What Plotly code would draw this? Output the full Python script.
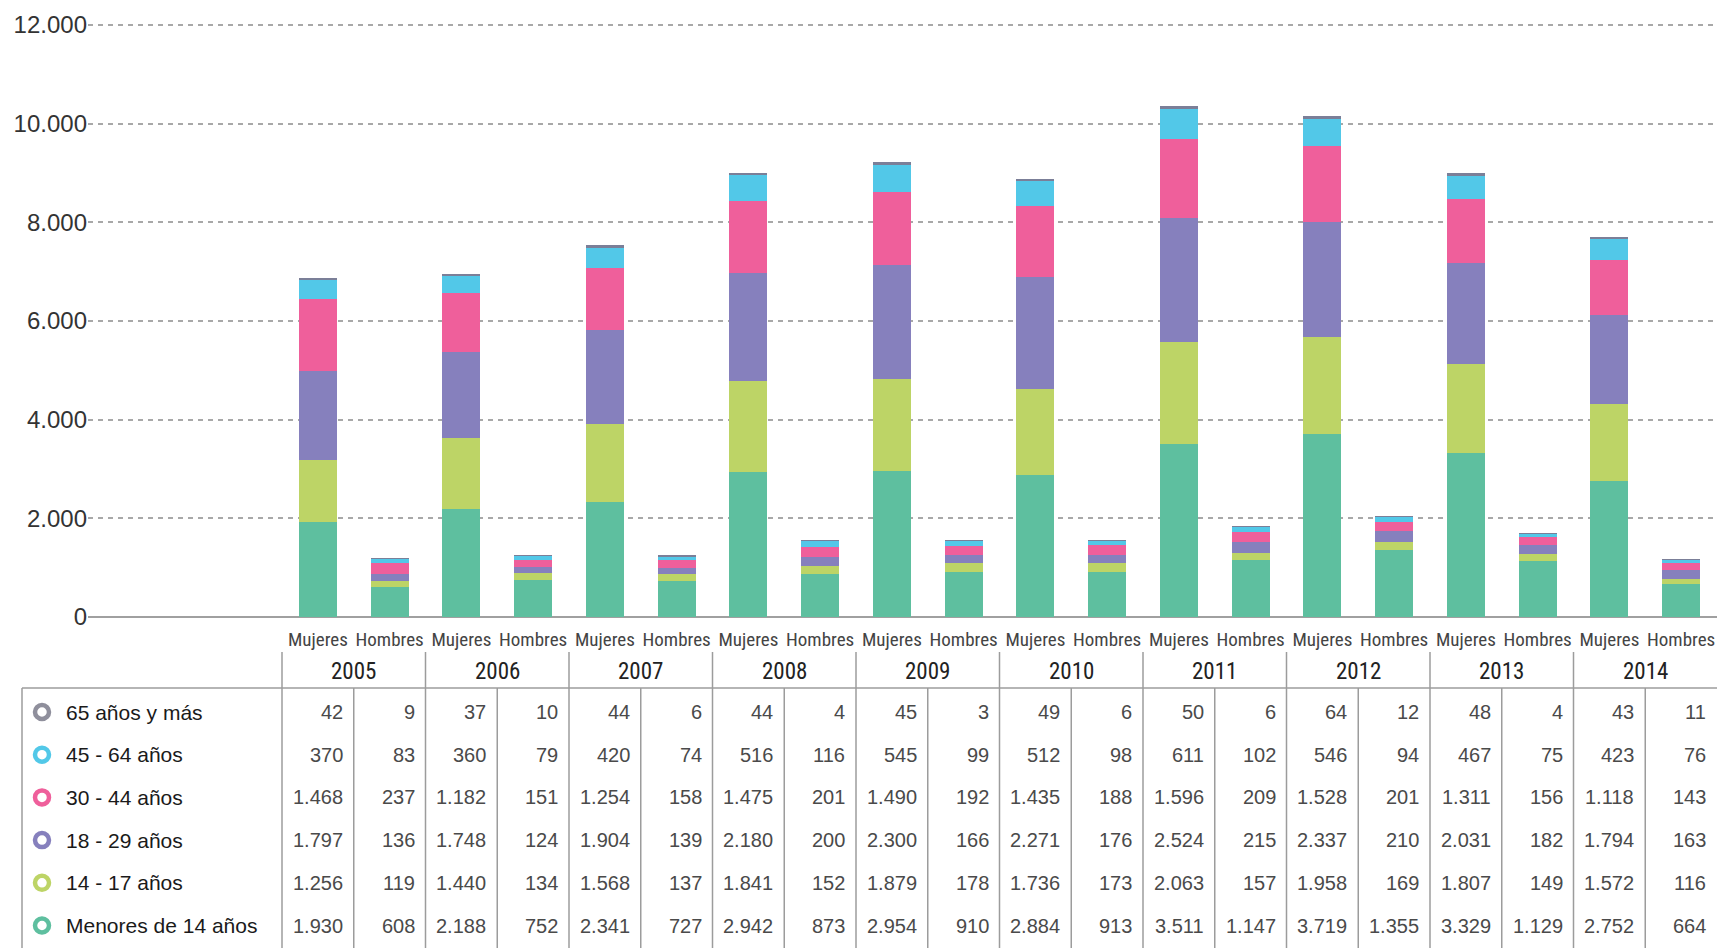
import plotly.graph_objects as go

# ---------------- data ----------------
years = ["2005", "2006", "2007", "2008", "2009", "2010", "2011", "2012", "2013", "2014"]
sexes = ["Mujeres", "Hombres"]

# values per age group, in column order: 2005 M, 2005 H, 2006 M, 2006 H, ...
menores_14 = [1930, 608, 2188, 752, 2341, 727, 2942, 873, 2954, 910,
              2884, 913, 3511, 1147, 3719, 1355, 3329, 1129, 2752, 664]
edad_14_17 = [1256, 119, 1440, 134, 1568, 137, 1841, 152, 1879, 178,
              1736, 173, 2063, 157, 1958, 169, 1807, 149, 1572, 116]
edad_18_29 = [1797, 136, 1748, 124, 1904, 139, 2180, 200, 2300, 166,
              2271, 176, 2524, 215, 2337, 210, 2031, 182, 1794, 163]
edad_30_44 = [1468, 237, 1182, 151, 1254, 158, 1475, 201, 1490, 192,
              1435, 188, 1596, 209, 1528, 201, 1311, 156, 1118, 143]
edad_45_64 = [370, 83, 360, 79, 420, 74, 516, 116, 545, 99,
              512, 98, 611, 102, 546, 94, 467, 75, 423, 76]
edad_65_mas = [42, 9, 37, 10, 44, 6, 44, 4, 45, 3,
               49, 6, 50, 6, 64, 12, 48, 4, 43, 11]

series_names = ["Menores de 14 años", "14 - 17 años", "18 - 29 años",
                "30 - 44 años", "45 - 64 años", "65 años y más"]
series_values = [menores_14, edad_14_17, edad_18_29, edad_30_44, edad_45_64, edad_65_mas]
bar_colors = ["#5ebf9f", "#bdd466", "#8680bd", "#ef5f9b", "#52c8e8", "#7b7f98"]
ring_colors = ["#5ebf9f", "#bdd466", "#8680bd", "#ef5f9b", "#52c8e8", "#8f8f9c"]

y_ticks = [0, 2000, 4000, 6000, 8000, 10000, 12000]
y_max = 12000

# ---------------- layout geometry (pixels) ----------------
W, H = 1717, 948
plot_left = 88
cat_left = 282
slot = (W - cat_left) / 20.0
y_zero_px, y_top_px = 617, 25
pad_val = 80  # small headroom so the top gridline is drawn
y_top_ext = y_top_px - pad_val * (y_zero_px - y_top_px) / y_max
row_y0, row_step = 712, 42.7
year_y = 671
table_top = 688
year_line_top = 652
frame_left = 22
line_col = "#9c9c9c"


def py(p):
    return 1 - p / H


def px(p):
    return p / W


def fmt(v):
    return f"{v:,}".replace(",", ".")


n_cols = len(years) * len(sexes)
xpos = list(range(n_cols))
ticktext = [s for _ in years for s in sexes]

fig = go.Figure()
for name, vals, col in zip(series_names, series_values, bar_colors):
    fig.add_trace(go.Bar(x=xpos, y=vals, name=name, marker=dict(color=col, line=dict(width=0)),
                         width=0.53, hovertemplate=name + ": %{y}<extra></extra>"))

narrow = "Liberation Sans Narrow, Arial Narrow, Roboto Condensed, DejaVu Sans Condensed, Liberation Sans, sans-serif"
regular = "Liberation Sans, Arial, Helvetica, sans-serif"

fig.update_layout(
    width=W, height=H,
    margin=dict(l=0, r=0, t=0, b=0),
    plot_bgcolor="white", paper_bgcolor="white",
    barmode="stack", showlegend=False,
    separators=",.",
    font=dict(family=regular, color="#333333"),
    xaxis=dict(
        domain=[px(plot_left), 1],
        range=[-0.5 - (cat_left - plot_left) / slot, n_cols - 0.5],
        showgrid=False, zeroline=False, showline=False,
        tickvals=xpos, ticktext=ticktext, ticks="",
        ticklabelstandoff=9,
        tickfont=dict(family=narrow, size=19, color="#444444"),
        automargin=False,
    ),
    yaxis=dict(
        domain=[py(y_zero_px), py(y_top_ext)],
        range=[0, y_max + pad_val],
        tickvals=y_ticks, tickformat=",d", ticks="",
        showgrid=True, gridcolor="#a8a8a8", gridwidth=1.5, griddash="5px,5px",
        zeroline=True, zerolinecolor="#a0a0a0", zerolinewidth=1.5,
        showline=False,
        tickfont=dict(family=regular, size=24, color="#333333"),
        automargin=False,
    ),
)

shapes = []
annotations = []

# year headers and dividers
for k, yr in enumerate(years):
    annotations.append(dict(x=2 * k + 0.5, y=py(year_y), xref="x", yref="paper",
                            text=yr, showarrow=False, xanchor="center", yanchor="middle",
                            font=dict(family=narrow, size=23, color="#222222")))
    shapes.append(dict(type="line", xref="x", yref="paper", x0=2 * k - 0.5, x1=2 * k - 0.5,
                       y0=py(year_line_top), y1=0, line=dict(color=line_col, width=1.5)))
    shapes.append(dict(type="line", xref="x", yref="paper", x0=2 * k + 0.5, x1=2 * k + 0.5,
                       y0=py(table_top), y1=0, line=dict(color=line_col, width=1.5)))

# table frame
shapes.append(dict(type="line", xref="paper", yref="paper", x0=px(frame_left), x1=1,
                   y0=py(table_top), y1=py(table_top), line=dict(color=line_col, width=1.5)))
shapes.append(dict(type="line", xref="paper", yref="paper", x0=px(frame_left), x1=px(frame_left),
                   y0=py(table_top), y1=0, line=dict(color=line_col, width=1.5)))

# table rows: top row = last series
for r, idx in enumerate(reversed(range(len(series_names)))):
    yc = row_y0 + r * row_step
    name = series_names[idx]
    vals = series_values[idx]
    rr = 7
    shapes.append(dict(type="circle", xref="paper", yref="paper",
                       x0=px(42 - rr), x1=px(42 + rr), y0=py(yc + rr), y1=py(yc - rr),
                       line=dict(color=ring_colors[idx], width=4.5), fillcolor="white"))
    annotations.append(dict(x=px(64), y=py(yc), xref="paper", yref="paper", text=name,
                            showarrow=False, xanchor="left", yanchor="middle",
                            font=dict(family=regular, size=21, color="#1a1a1a")))
    for c, v in enumerate(vals):
        annotations.append(dict(x=c + 0.5, y=py(yc), xref="x", yref="paper", text=fmt(v),
                                showarrow=False, xanchor="right", yanchor="middle", xshift=-9,
                                font=dict(family=regular, size=20, color="#4a4a4a")))

fig.update_layout(shapes=shapes, annotations=annotations)

fig.write_html(
    "out.html",
    config={"displayModeBar": False},
    post_script="document.body.style.margin='0';document.body.style.overflow='hidden';",
)
